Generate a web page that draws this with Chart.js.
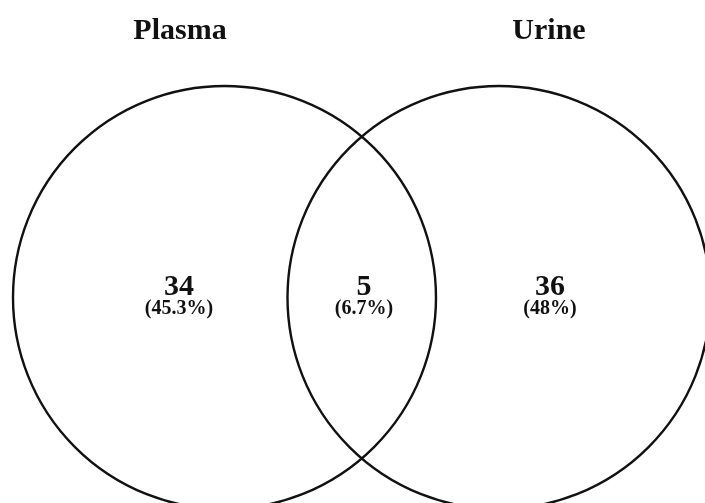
<!DOCTYPE html>
<html>
<head>
<meta charset="utf-8">
<script src="https://cdn.jsdelivr.net/npm/chart.js@4/dist/chart.umd.min.js"></script>
<style>
  html, body { margin: 0; padding: 0; background: #fff; }
  #wrap { width: 705px; height: 503px; }
</style>
</head>
<body>
<div id="wrap"><canvas id="venn" width="705" height="503"></canvas></div>
<script>
// —— data ——
const setNames = ["Plasma", "Urine"];
const regionNames = ["Plasma only", "Both", "Urine only"];
const regionCounts = [34, 5, 36];

// —— layout (canvas units) ——
const circleLayout = [
  { x: 224.5, y: 297.5, r: 211.5 },
  { x: 499, y: 297.5, r: 211.5 },
];
const titlePos = [{ x: 180, y: 39 }, { x: 549, y: 39 }];
const regionPos = [{ x: 179, y: 295 }, { x: 364, y: 295 }, { x: 550, y: 295 }];

const ink = "#111";
const serif = '"Liberation Serif", "DejaVu Serif", serif';

const total = regionCounts.reduce((a, b) => a + b, 0);
const pctText = (n) => "(" + parseFloat(((n / total) * 100).toFixed(1)) + "%)";

const vennLabels = {
  id: "vennLabels",
  afterDatasetsDraw(chart) {
    const { ctx, scales } = chart;
    const px = (v) => scales.x.getPixelForValue(v);
    const py = (v) => scales.y.getPixelForValue(v);
    ctx.save();
    ctx.fillStyle = ink;
    ctx.textAlign = "center";
    ctx.textBaseline = "alphabetic";
    ctx.font = "bold 30px " + serif;
    setNames.forEach((name, i) => {
      ctx.fillText(name, px(titlePos[i].x), py(titlePos[i].y));
    });
    regionCounts.forEach((n, i) => {
      const p = regionPos[i];
      ctx.font = "bold 30px " + serif;
      ctx.fillText(String(n), px(p.x), py(p.y));
      ctx.font = "bold 20px " + serif;
      ctx.fillText(pctText(n), px(p.x), py(p.y + 19));
    });
    ctx.restore();
  },
};

new Chart(document.getElementById("venn"), {
  type: "bubble",
  data: {
    datasets: setNames.map((name, i) => ({
      label: name,
      data: [circleLayout[i]],
      backgroundColor: "rgba(0,0,0,0)",
      borderColor: ink,
      borderWidth: 2.4,
      hoverRadius: 0,
      hoverBorderWidth: 2.4,
      clip: false,
    })),
  },
  options: {
    responsive: false,
    animation: false,
    events: [],
    layout: { padding: 0, autoPadding: false },
    plugins: { legend: { display: false }, tooltip: { enabled: false } },
    scales: {
      x: { type: "linear", min: 0, max: 705, display: false },
      y: { type: "linear", min: 0, max: 503, reverse: true, display: false },
    },
  },
  plugins: [vennLabels],
});
</script>
</body>
</html>
